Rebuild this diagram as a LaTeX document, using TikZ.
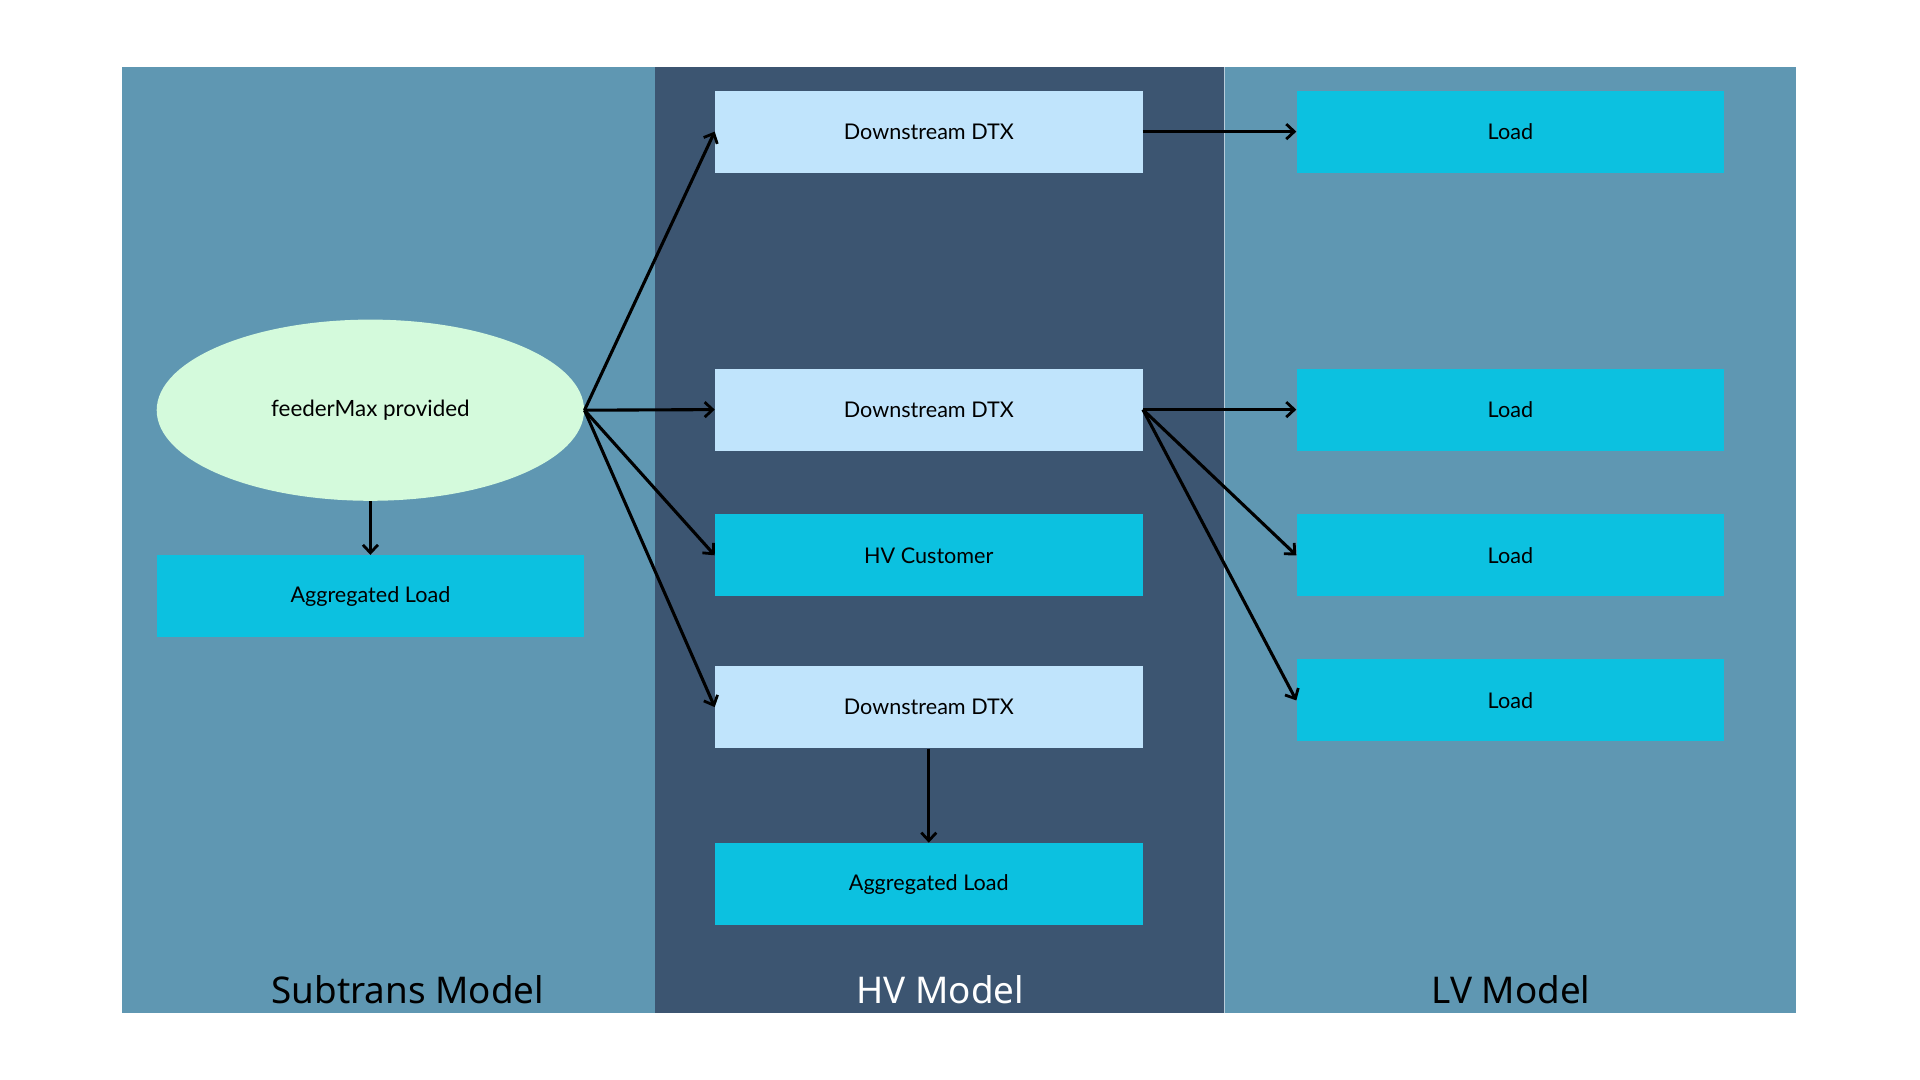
\documentclass[tikz,border=0pt]{standalone}
\usepackage{fontspec}
\setmainfont{Lato}
\newfontfamily\titlefont{Noto Sans}
\usetikzlibrary{arrows.meta,shapes.geometric}
\definecolor{panelA}{HTML}{5F97B2}
\definecolor{panelB}{HTML}{3C5571}
\definecolor{ellfill}{HTML}{D4FADC}
\definecolor{lightbox}{HTML}{C0E4FC}
\definecolor{cyanbox}{HTML}{0CC1E0}
\definecolor{divider}{HTML}{B8CCDA}
\tikzset{
  px/.style={x=0.5pt,y=-0.5pt},
  boxbase/.style={rectangle, inner sep=0pt, minimum width=213.7pt, minimum height=41pt, font=\fontsize{10.8}{12}\selectfont, text=black},
  dtxbox/.style={boxbase, fill=lightbox},
  loadbox/.style={boxbase, fill=cyanbox},
  ellnode/.style={ellipse, fill=ellfill, inner sep=0pt, minimum width=213.7pt, minimum height=90.6pt, font=\fontsize{11.2}{12}\selectfont},
  titlelbl/.style={font=\titlefont\fontsize{18.4}{20}\selectfont, anchor=base},
  conn/.style={-{Straight Barb[length=4pt,width=7.5pt,line width=1.4pt]}, line width=1.55pt, black}
}
\begin{document}
\begin{tikzpicture}[px]
\useasboundingbox (0,0) rectangle (1920,1080);
\fill[white] (0,0) rectangle (1920,1080);
% panels
\fill[panelA] (122.4,67.3) rectangle (655.1,1012.7);
\fill[panelB] (655.1,67.3) rectangle (1224.5,1012.7);
\fill[panelA] (1224.5,67.3) rectangle (1796.3,1012.7);
\draw[divider, line width=0.6pt] (1224.5,67.3) -- (1224.5,1012.7);
% titles
\node[titlelbl, text=black] (t1) at (407.8,1003) {Subtrans Model};
\node[titlelbl, text=white] (t2) at (940.4,1003) {HV Model};
\node[titlelbl, text=black] (t3) at (1511,1003) {LV Model};
% nodes
\node[ellnode] (fm) at (370.4,410.2) {feederMax provided};
\node[loadbox] (aggL) at (370.4,596.3) {Aggregated Load};
\node[dtxbox] (d1) at (928.8,131.6) {Downstream DTX};
\node[dtxbox] (d2) at (928.8,409.6) {Downstream DTX};
\node[loadbox] (hvc) at (928.8,555.3) {HV Customer};
\node[dtxbox] (d3) at (928.8,707.1) {Downstream DTX};
\node[loadbox] (aggH) at (928.8,884.1) {Aggregated Load};
\node[loadbox] (l1) at (1510.4,131.6) {Load};
\node[loadbox] (l2) at (1510.4,409.6) {Load};
\node[loadbox] (l3) at (1510.4,555.3) {Load};
\node[loadbox] (l4) at (1510.4,700.4) {Load};
% connectors
\draw[conn] (fm.east) -- (d1.west);
\draw[conn] (fm.east) -- (d2.west);
\draw[conn] (fm.east) -- (hvc.west);
\draw[conn] (fm.east) -- (d3.west);
\draw[conn] (fm.south) -- (aggL.north);
\draw[conn] (d3.south) -- (aggH.north);
\draw[conn] (d1.east) -- (l1.west);
\draw[conn] (d2.east) -- (l2.west);
\draw[conn] (d2.east) -- (l3.west);
\draw[conn] (d2.east) -- (l4.west);
\end{tikzpicture}
\end{document}
